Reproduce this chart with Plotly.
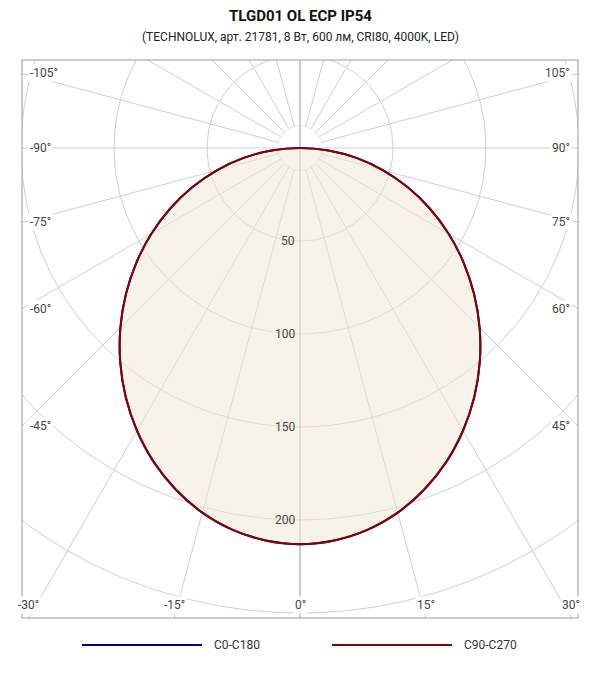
import numpy as np
import plotly.graph_objects as go

title = "TLGD01 OL ECP IP54"
subtitle = "(TECHNOLUX, арт. 21781, 8 Вт, 600 лм, CRI80, 4000K, LED)"
angles = [0, 5, 10, 15, 20, 25, 30, 35, 40, 45, 50, 55, 60, 65, 70, 75, 80, 85, 90]
c0_c180 = [213, 211.8, 208.5, 203, 195.4, 186.2, 175.4, 163.4, 150.4, 136.6, 122.2, 107.4, 92.3, 77, 61.7, 46.3, 30.8, 15.4, 0]
c90_c270 = [213, 211.8, 208.5, 203, 195.4, 186.2, 175.4, 163.4, 150.4, 136.6, 122.2, 107.4, 92.3, 77, 61.7, 46.3, 30.8, 15.4, 0]
ring_values = [50, 100, 150, 200, 250, 300]
ring_labels = [50, 100, 150, 200]
spoke_angles = list(range(-180, 181, 15))

XR = [-149.5, 149.5]
YR = [-252.7, 47.3]

def curve(vals):
    a = np.radians(np.array(angles))
    r = np.array(vals, float)
    a_full = np.concatenate([-a[::-1], a[1:]])
    r_full = np.concatenate([r[::-1], r[1:]])
    return r_full * np.sin(a_full), -r_full * np.cos(a_full)

fig = go.Figure()
grid = "#cfcfcf"
t = np.linspace(0, 2 * np.pi, 361)
for rv in ring_values:
    fig.add_trace(go.Scatter(x=rv * np.sin(t), y=rv * np.cos(t), mode="lines",
                             line=dict(color=grid, width=1), hoverinfo="skip", showlegend=False))
fig.add_trace(go.Scatter(x=12 * np.sin(t), y=12 * np.cos(t), mode="lines",
                         line=dict(color="#e6e6e6", width=1), hoverinfo="skip", showlegend=False))
for a in spoke_angles:
    if a in (0, 180, -180):
        continue
    ar = np.radians(a)
    fig.add_trace(go.Scatter(x=[12 * np.sin(ar), 400 * np.sin(ar)], y=[-12 * np.cos(ar), -400 * np.cos(ar)],
                             mode="lines", line=dict(color=grid, width=1), hoverinfo="skip", showlegend=False))
fig.add_trace(go.Scatter(x=[0, 0], y=[-400, 400], mode="lines", line=dict(color="#999999", width=1),
                         hoverinfo="skip", showlegend=False))

x0, y0 = curve(c0_c180)
x9, y9 = curve(c90_c270)
fig.add_trace(go.Scatter(x=x9, y=y9, mode="lines", fill="toself", fillcolor="rgba(240,232,215,0.5)",
                         line=dict(color="rgba(0,0,0,0)", shape="spline"), hoverinfo="skip", showlegend=False))
fig.add_trace(go.Scatter(x=x0, y=y0, mode="lines", line=dict(color="#000080", width=2, shape="spline"),
                         name="C0-C180", showlegend=False))
fig.add_trace(go.Scatter(x=x9, y=y9, mode="lines", line=dict(color="#8b0000", width=2, shape="spline"),
                         name="C90-C270", showlegend=False))

ann = []
for v in ring_labels:
    ann.append(dict(x=-1.5, y=-v, text=str(v), showarrow=False, xanchor="right", yanchor="middle",
                    font=dict(size=12, color="#444")))
for a in range(-105, 106, 15):
    ar = np.radians(a)
    dx, dy = np.sin(ar), -np.cos(ar)
    ts = []
    if dx > 1e-9: ts.append(XR[1] / dx)
    if dx < -1e-9: ts.append(XR[0] / dx)
    if dy > 1e-9: ts.append(YR[1] / dy)
    if dy < -1e-9: ts.append(YR[0] / dy)
    tt = min(ts)
    px, py = tt * dx, tt * dy
    xa, ya = "center", "middle"
    if abs(px - XR[1]) < 1e-6:
        xa = "right"; px -= 3
    elif abs(px - XR[0]) < 1e-6:
        xa = "left"; px += 3
    if abs(py - YR[0]) < 1e-6:
        ya = "bottom"; py += 2
    elif abs(py - YR[1]) < 1e-6:
        ya = "top"; py -= 2
    ann.append(dict(x=px, y=py, text=f"{a}°", showarrow=False, xanchor=xa, yanchor=ya,
                    bgcolor="white", font=dict(size=12, color="#444")))
ann.append(dict(x=0.5, y=1.0, xref="paper", yref="paper", yshift=44, yanchor="middle", text=f"<b>{title}</b>",
                showarrow=False, font=dict(size=15, color="#111")))
ann.append(dict(x=0.5, y=1.0, xref="paper", yref="paper", yshift=23, yanchor="middle", text=subtitle,
                showarrow=False, font=dict(size=12, color="#222")))
shapes = []
for i, (name, col) in enumerate([("C0-C180", "#000080"), ("C90-C270", "#8b0000")]):
    xl = (82 + 250 * i - 22) / 556
    xr = (202 + 250 * i - 22) / 556
    yl = -(645 - 618) / 558
    shapes.append(dict(type="line", xref="paper", yref="paper", x0=xl, x1=xr, y0=yl, y1=yl,
                       line=dict(color=col, width=2)))
    ann.append(dict(x=(212 + 250 * i - 22) / 556, y=yl, xref="paper", yref="paper", text=name,
                    showarrow=False, xanchor="left", yanchor="middle", font=dict(size=12, color="#333")))
shapes.append(dict(type="rect", xref="paper", yref="paper", x0=0, x1=1, y0=0, y1=1,
                   line=dict(color="#999", width=1)))

fig.update_layout(width=600, height=680, margin=dict(l=14, r=30, t=52, b=70),
                  plot_bgcolor="white", paper_bgcolor="white",
                  font=dict(family="Roboto", size=12),
                  xaxis=dict(range=XR, visible=False, fixedrange=True),
                  yaxis=dict(range=YR, visible=False, fixedrange=True),
                  annotations=ann, shapes=shapes, showlegend=False)
fig.write_html("out.html")
